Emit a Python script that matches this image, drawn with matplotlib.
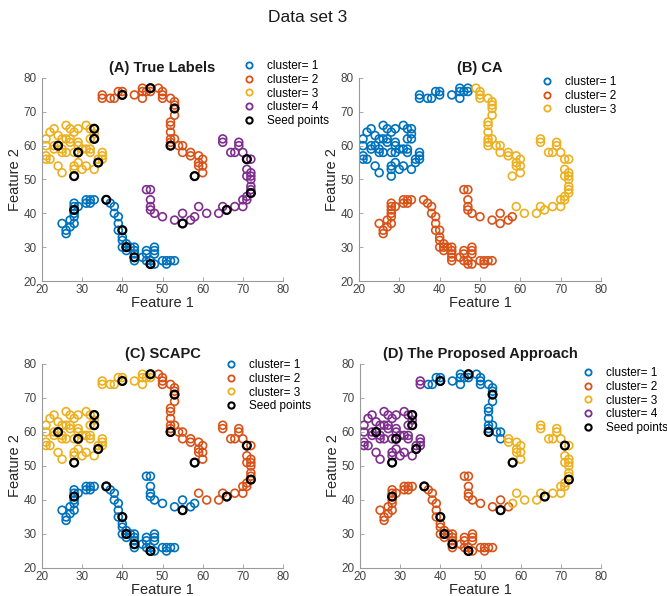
import matplotlib
matplotlib.use("Agg")
import matplotlib.pyplot as plt
from matplotlib.lines import Line2D

plt.rcParams['font.family'] = ['Liberation Sans', 'DejaVu Sans']

# ---- data: point groups (segments of the shapes) ----
blue_x = [25, 26, 26, 27, 27, 28, 28, 28, 28, 28, 28, 29, 31, 31, 32, 32, 33, 36, 37, 38, 38, 39, 39, 39, 40,
          40, 40, 40, 41, 41, 41, 42, 43, 43, 43, 43, 43, 45, 46, 46, 46, 47, 47, 48, 48, 48, 48, 50, 51, 51, 52, 53]
blue_y = [37, 35, 34, 36, 38, 37, 39, 40, 41, 42, 43, 42, 44, 43, 43, 44, 44, 44, 43, 42, 40, 39, 37, 35, 35,
          33, 32, 30, 31, 30, 29, 30, 30, 29, 28, 27, 26, 27, 29, 28, 26, 25, 26, 30, 29, 28, 25, 26, 25, 26, 26, 26]

yellow_x = [21, 21, 21, 21, 22, 22, 23, 23, 23, 24, 24, 24, 25, 25, 25, 25, 26, 26, 26, 27, 27, 27, 28, 28, 28,
            28, 28, 29, 29, 29, 29, 29, 30, 30, 31, 31, 31, 32, 32, 32, 32, 33, 33, 33, 33, 34, 34, 35, 35, 35]
yellow_y = [62, 60, 57, 56, 56, 64, 65, 59, 60, 60, 63, 54, 62, 59, 58, 52, 66, 62, 58, 65, 62, 61, 64, 58, 54,
            53, 51, 65, 61, 60, 58, 55, 59, 53, 66, 59, 54, 65, 62, 59, 58, 65, 62, 63.5, 53, 55, 56, 58, 57, 56]

orange_a_x = [35, 35]
orange_a_y = [75, 74]
orange_b_x = [37, 38, 39, 40, 40, 43, 45, 45, 45, 46, 47, 47]
orange_b_y = [74, 74, 76, 76, 75, 75, 77, 76, 74, 76, 77, 76]
orange_c_x = [49, 50, 50, 50, 52, 53, 53, 53, 53, 52, 52, 52, 52, 52, 53, 52, 54, 55, 55]
orange_c_y = [77, 76, 75, 74, 74, 73, 72, 71, 69, 67, 66, 64, 62, 61, 62, 60, 60, 60, 58]
orange_d_x = [57, 57, 59, 59, 59, 60, 60, 60, 58]
orange_d_y = [58, 57, 57, 55, 54, 56, 54, 52, 51]

purple_a_x = [46, 47, 47, 47, 47, 48, 50, 53, 55, 55, 57]
purple_a_y = [47, 47, 44, 42, 41, 40, 39, 38, 37, 40, 38]
purple_b_x = [58]
purple_b_y = [39]
purple_c_x = [59, 61, 64, 65, 66, 68, 70, 70, 71, 71, 72, 72, 72, 72, 72, 72, 71, 71, 72, 71, 70, 68, 67, 69, 69, 65, 65]
purple_c_y = [42, 40, 40, 42, 41, 42, 42, 44, 45, 44, 46, 47, 48, 50, 51, 52, 51, 53, 56, 56, 58, 58, 58, 60, 61, 62, 61]

seed_x = [24, 28, 29, 33, 33, 34, 40, 47, 53, 52, 58, 71, 72, 66, 55, 28, 36, 40, 41, 43, 47]
seed_y = [60, 51, 58, 65, 62, 55, 75, 77, 71, 60, 51, 56, 46, 41, 37, 41, 44, 35, 30, 27, 25]

titles = ["(A) True Labels", "(B) CA", "(C) SCAPC", "(D) The Proposed Approach"]
ticks = [20, 30, 40, 50, 60, 70, 80]

# cluster membership per panel (lists of segment names)
panels = {
    "A": [["blue"], ["orange_a", "orange_b", "orange_c", "orange_d"], ["yellow"],
          ["purple_a", "purple_b", "purple_c"]],
    "B": [["yellow", "orange_a", "orange_b"], ["blue", "purple_a", "purple_b"],
          ["orange_c", "orange_d", "purple_c"]],
    "C": [["blue", "purple_a", "purple_b"], ["orange_c", "orange_d", "purple_c"],
          ["yellow", "orange_a", "orange_b"]],
    "D": [["orange_b", "orange_c"], ["blue", "purple_a"], ["orange_d", "purple_b", "purple_c"],
          ["yellow", "orange_a"]],
}
show_seeds = {"A": True, "B": False, "C": True, "D": True}

segs = {
    "blue": (blue_x, blue_y), "yellow": (yellow_x, yellow_y),
    "orange_a": (orange_a_x, orange_a_y), "orange_b": (orange_b_x, orange_b_y),
    "orange_c": (orange_c_x, orange_c_y), "orange_d": (orange_d_x, orange_d_y),
    "purple_a": (purple_a_x, purple_a_y), "purple_b": (purple_b_x, purple_b_y),
    "purple_c": (purple_c_x, purple_c_y),
}

colors = ["#0072BD", "#D95319", "#EDB120", "#7E2F8E"]

W, H = 667, 596
fig = plt.figure(figsize=(W / 100, H / 100), dpi=100)

# axes rects in pixels: left, right, top, bottom
rects = {"A": (42, 283, 78, 281), "B": (359, 601, 78, 281),
         "C": (42, 283, 364, 568), "D": (360, 601, 364, 568)}
legend_pos = {"A": (243, 60), "B": (541, 76), "C": (225, 359), "D": (582, 367)}

for key, title in zip(["A", "B", "C", "D"], titles):
    l, r, t, b = rects[key]
    ax = fig.add_axes([l / W, 1 - b / H, (r - l) / W, (b - t) / H])
    handles = []
    for i, members in enumerate(panels[key]):
        xs, ys = [], []
        for m in members:
            xs += segs[m][0]
            ys += segs[m][1]
        ax.scatter(xs, ys, s=32, facecolors='none', edgecolors=colors[i], linewidths=1.2, zorder=2)
        handles.append(Line2D([], [], marker='o', linestyle='none', markersize=4.5,
                              markerfacecolor='none', markeredgecolor=colors[i], markeredgewidth=1.3,
                              label=f"cluster= {i + 1}"))
    if show_seeds[key]:
        ax.scatter(seed_x, seed_y, s=32, facecolors='none', edgecolors='black', linewidths=1.6, zorder=3)
        handles.append(Line2D([], [], marker='o', linestyle='none', markersize=4.5,
                              markerfacecolor='none', markeredgecolor='black', markeredgewidth=1.5,
                              label="Seed points"))
    ax.set_xlim(20, 80)
    ax.set_ylim(20, 80)
    ax.set_xticks(ticks)
    ax.set_yticks(ticks)
    for s in ["top", "right"]:
        ax.spines[s].set_visible(False)
    for s in ["left", "bottom"]:
        ax.spines[s].set_color("#9a9a9a")
        ax.spines[s].set_linewidth(0.8)
    ax.tick_params(direction='in', length=3, width=0.6, colors="#9a9a9a", labelsize=8.5,
                   labelcolor="#444444")
    ax.tick_params(axis='x', pad=2.5)
    ax.tick_params(axis='y', pad=4)
    ax.set_xlabel("Feature 1", fontsize=10.5, color="#262626", labelpad=0)
    ax.set_ylabel("Feature 2", fontsize=10.5, color="#262626", labelpad=1)
    ax.set_title(title, fontsize=10.5, fontweight='bold', color="#1a1a1a", pad=4)
    lx, ly = legend_pos[key]
    ax.legend(handles=handles, loc='upper left', bbox_to_anchor=(lx / W, 1 - ly / H),
              bbox_transform=fig.transFigure, frameon=False, fontsize=8.5, handlelength=1.0,
              handletextpad=1.0, labelspacing=0.15, borderpad=0, borderaxespad=0)

fig.text(308 / W, 1 - 18 / H, "Data set 3", ha='center', va='center', fontsize=12.5, color="#1a1a1a")

fig.savefig("out.png", dpi=100)
